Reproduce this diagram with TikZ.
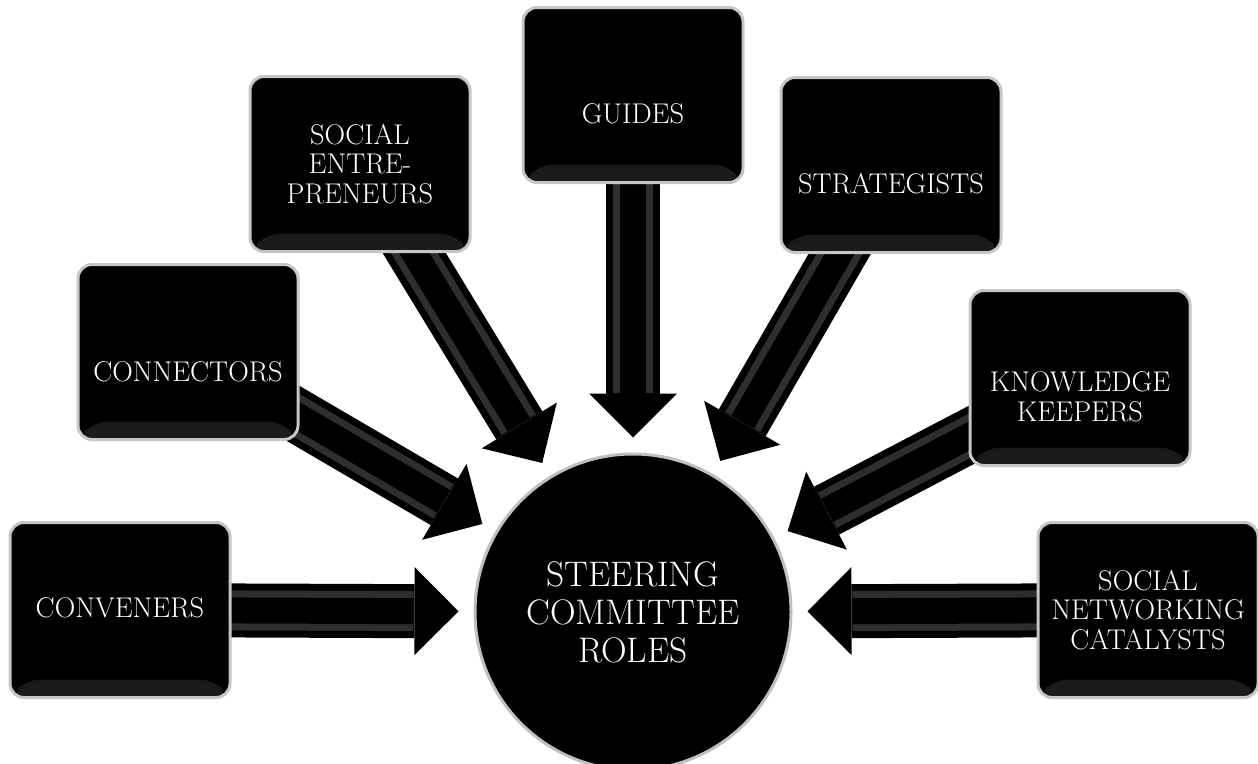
\documentclass[tikz,border=0pt]{standalone}
\usepackage{fontspec}
\usetikzlibrary{arrows.meta,backgrounds}

\begin{document}
\begin{tikzpicture}[x=1pt,y=-1pt,
    rolebox/.style={rectangle, rounded corners=14pt, minimum width=220pt, minimum height=175pt,
        inner sep=0pt, fill=black, draw=gray!45, line width=3pt,
        path picture={\shade[top color=black, bottom color=gray!22!black]
            (path picture bounding box.south west) -- ([xshift=16pt,yshift=18pt]path picture bounding box.south west)
            -- ([xshift=-16pt,yshift=18pt]path picture bounding box.south east) -- (path picture bounding box.south east) -- cycle;}},
    roletext/.style={text=white, align=center, font=\fontsize{28.5}{29.5}\selectfont},
    hub/.style={circle, minimum size=316pt, inner sep=0pt, fill=black, draw=gray!50, line width=3pt,
        text=white, align=center, font=\fontsize{35.5}{38}\selectfont},
    blockarrow/.style={line width=54pt, -{Triangle[length=44pt,width=88pt,line width=0pt]}, shorten >=15pt},
    glint/.style={line width=40pt, draw=black!82, shorten >=60pt},
    core/.style={line width=26pt, draw=black, shorten >=60pt}]

    \useasboundingbox (0,0) rectangle (1258,763);
    \clip (0,0) rectangle (1258,763);

    % centre
    \node[hub] (hub) at (633,612) {STEERING\\COMMITTEE\\ROLES};

    % role boxes
    \node[rolebox] (conv) at (120,610) {};
    \node[roletext] (convtext) at ([yshift=2pt]conv) {CONVENERS};

    \node[rolebox] (conn) at (188,352) {};
    \node[roletext] (conntext) at ([yshift=-20pt]conn) {CONNECTORS};

    \node[rolebox] (entr) at (360,164) {};
    \node[roletext] (entrtext) at (entr) {SOCIAL\\ENTRE-\\PRENEURS};

    \node[rolebox] (guid) at (633,95) {};
    \node[roletext] (guidtext) at ([yshift=-19pt]guid) {GUIDES};

    \node[rolebox] (strat) at (891,165) {};
    \node[roletext] (strattext) at ([yshift=-19pt]strat) {STRATEGISTS};

    \node[rolebox] (know) at (1080,378) {};
    \node[roletext] (knowtext) at ([yshift=-19pt]know) {KNOWLEDGE\\KEEPERS};

    \node[rolebox] (netw) at (1148,610) {};
    \node[roletext] (netwtext) at (netw) {SOCIAL\\NETWORKING\\CATALYSTS};

    % arrows into the centre
    \begin{scope}[on background layer]
        \foreach \src in {conv,conn,entr,guid,strat,know,netw} {
            \draw[blockarrow] (\src.center) -- (hub);
            \draw[glint] (\src.center) -- (hub);
            \draw[core] (\src.center) -- (hub);
        }
    \end{scope}
\end{tikzpicture}
\end{document}
